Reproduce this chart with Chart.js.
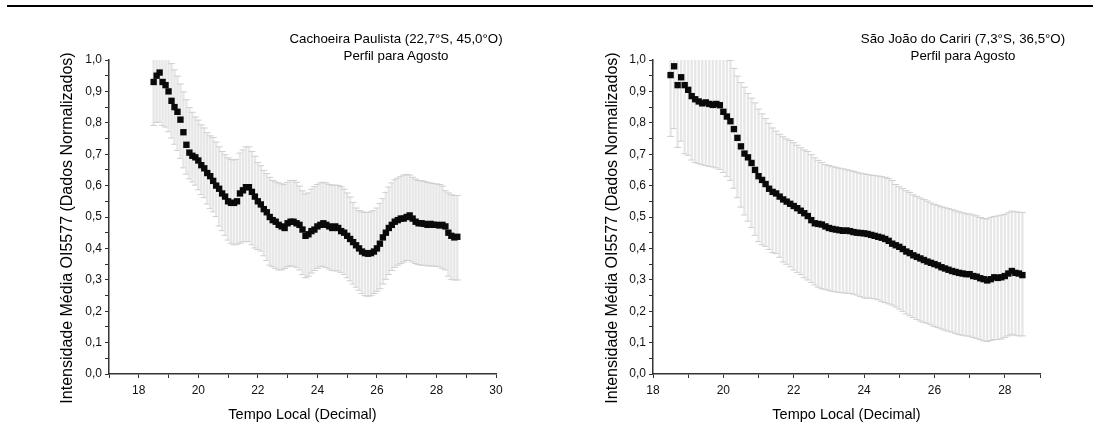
<!DOCTYPE html>
<html>
<head>
<meta charset="utf-8">
<script src="https://cdn.jsdelivr.net/npm/chart.js@4.4.1/dist/chart.umd.min.js"></script>
<style>
  body { margin: 0; background: #fff; font-family: "Liberation Sans", Arial, sans-serif; }
  #page { position: relative; width: 1093px; height: 443px; overflow: hidden; }
  #topRule { position: absolute; left: 7px; top: 5px; width: 1086px; height: 2px; background: #000; }
  .box { position: absolute; top: 0; }
  .title { position: absolute; width: 260px; font-size: 13.3px; line-height: 17px; text-align: center; color: #000; white-space: nowrap; }
  .ytitle { position: absolute; width: 400px; height: 20px; line-height: 20px; font-size: 16px; text-align: center; color: #000;
            white-space: nowrap; transform: translate(-50%, -50%) rotate(-90deg); }
</style>
</head>
<body>
<div id="page">
  <div id="topRule"></div>
  <div class="box" style="left:0"><canvas id="chartCachoeira" width="546" height="443"></canvas></div>
  <div class="box" style="left:546px"><canvas id="chartCariri" width="547" height="443"></canvas></div>
  <div class="title" style="left:266px; top:30px;">Cachoeira Paulista (22,7°S, 45,0°O)<br>Perfil para Agosto</div>
  <div class="title" style="left:833px; top:30px;">São João do Cariri (7,3°S, 36,5°O)<br>Perfil para Agosto</div>
  <div class="ytitle" id="yTitleCP" style="left:67px; top:228px;"></div>
  <div class="ytitle" id="yTitleSJ" style="left:612px; top:228px;"></div>
</div>
<script>
// Cachoeira Paulista - agosto
const hoursCP = [18.5,18.6,18.7,18.8,18.9,19.0,19.1,19.2,19.3,19.4,19.5,19.6,19.7,19.8,19.9,
  20.0,20.1,20.2,20.3,20.4,20.5,20.6,20.7,20.8,20.9,21.0,21.1,21.2,21.3,21.4,21.5,21.6,21.7,21.8,21.9,
  22.0,22.1,22.2,22.3,22.4,22.5,22.6,22.7,22.8,22.9,23.0,23.1,23.2,23.3,23.4,23.5,23.6,23.7,23.8,23.9,
  24.0,24.1,24.2,24.3,24.4,24.5,24.6,24.7,24.8,24.9,25.0,25.1,25.2,25.3,25.4,25.5,25.6,25.7,25.8,25.9,
  26.0,26.1,26.2,26.3,26.4,26.5,26.6,26.7,26.8,26.9,27.0,27.1,27.2,27.3,27.4,27.5,27.6,27.7,27.8,27.9,
  28.0,28.1,28.2,28.3,28.4,28.5,28.6,28.7];
const meanCP = [0.93,0.95,0.96,0.93,0.92,0.90,0.87,0.85,0.835,0.81,0.77,0.73,0.705,0.695,0.69,
  0.68,0.665,0.655,0.64,0.63,0.615,0.60,0.59,0.575,0.565,0.55,0.545,0.545,0.55,0.575,0.585,0.595,0.595,0.58,0.565,
  0.55,0.54,0.525,0.515,0.50,0.49,0.485,0.475,0.47,0.465,0.48,0.485,0.485,0.48,0.475,0.46,0.44,0.445,0.455,0.46,
  0.47,0.475,0.48,0.475,0.47,0.465,0.47,0.465,0.455,0.45,0.44,0.43,0.42,0.41,0.40,0.39,0.385,0.383,0.385,0.39,
  0.40,0.415,0.435,0.45,0.465,0.475,0.485,0.49,0.495,0.495,0.50,0.505,0.495,0.485,0.48,0.48,0.478,0.475,0.478,0.475,
  0.475,0.473,0.475,0.47,0.45,0.44,0.435,0.437];
const upperCP = [1.08,1.09,1.09,1.06,1.05,1.02,0.99,0.97,0.95,0.925,0.90,0.875,0.85,0.835,0.82,
  0.81,0.795,0.785,0.77,0.76,0.755,0.74,0.725,0.71,0.70,0.69,0.685,0.683,0.685,0.705,0.715,0.725,0.725,0.71,0.695,
  0.675,0.665,0.65,0.64,0.628,0.618,0.613,0.61,0.607,0.605,0.612,0.618,0.618,0.612,0.60,0.585,0.575,0.578,0.59,0.598,
  0.605,0.61,0.612,0.61,0.605,0.603,0.603,0.602,0.598,0.59,0.578,0.565,0.548,0.53,0.522,0.518,0.516,0.516,0.518,0.522,
  0.53,0.545,0.56,0.58,0.597,0.61,0.62,0.625,0.63,0.635,0.637,0.635,0.628,0.622,0.618,0.617,0.615,0.612,0.61,0.608,
  0.607,0.605,0.60,0.585,0.578,0.572,0.57,0.57];
const lowerCP = [0.79,0.80,0.80,0.79,0.785,0.77,0.75,0.73,0.71,0.685,0.655,0.635,0.62,0.61,0.60,
  0.585,0.57,0.56,0.54,0.525,0.515,0.50,0.47,0.455,0.44,0.425,0.415,0.41,0.412,0.415,0.42,0.42,0.42,0.41,0.40,
  0.395,0.39,0.375,0.36,0.345,0.34,0.335,0.33,0.33,0.335,0.34,0.343,0.342,0.338,0.33,0.315,0.305,0.31,0.32,0.328,
  0.335,0.34,0.342,0.338,0.333,0.328,0.327,0.327,0.322,0.315,0.305,0.295,0.285,0.275,0.265,0.255,0.248,0.246,0.248,0.255,
  0.262,0.27,0.285,0.30,0.315,0.328,0.338,0.345,0.35,0.355,0.36,0.36,0.355,0.35,0.347,0.345,0.345,0.343,0.343,0.342,
  0.342,0.34,0.335,0.33,0.31,0.30,0.298,0.298];

// Sao Joao do Cariri - agosto
const hoursSJ = [18.5,18.6,18.7,18.8,18.9,19.0,19.1,19.2,19.3,19.4,19.5,19.6,19.7,19.8,19.9,
  20.0,20.1,20.2,20.3,20.4,20.5,20.6,20.7,20.8,20.9,21.0,21.1,21.2,21.3,21.4,21.5,21.6,21.7,21.8,21.9,
  22.0,22.1,22.2,22.3,22.4,22.5,22.6,22.7,22.8,22.9,23.0,23.1,23.2,23.3,23.4,23.5,23.6,23.7,23.8,23.9,
  24.0,24.1,24.2,24.3,24.4,24.5,24.6,24.7,24.8,24.9,25.0,25.1,25.2,25.3,25.4,25.5,25.6,25.7,25.8,25.9,
  26.0,26.1,26.2,26.3,26.4,26.5,26.6,26.7,26.8,26.9,27.0,27.1,27.2,27.3,27.4,27.5,27.6,27.7,27.8,27.9,
  28.0,28.1,28.2,28.3,28.4,28.5];
const meanSJ = [0.952,0.98,0.92,0.945,0.92,0.905,0.885,0.875,0.868,0.862,0.865,0.86,0.857,0.86,0.856,
  0.835,0.82,0.805,0.78,0.752,0.725,0.702,0.69,0.672,0.65,0.63,0.618,0.605,0.59,0.58,0.575,0.565,0.556,0.549,0.542,
  0.535,0.528,0.52,0.512,0.503,0.49,0.48,0.478,0.476,0.47,0.465,0.462,0.46,0.458,0.456,0.457,0.455,0.452,0.45,0.449,
  0.448,0.446,0.443,0.44,0.437,0.434,0.43,0.424,0.415,0.41,0.405,0.398,0.39,0.385,0.378,0.373,0.368,0.363,0.358,0.354,
  0.35,0.346,0.34,0.336,0.332,0.328,0.325,0.322,0.32,0.318,0.318,0.312,0.31,0.305,0.302,0.298,0.302,0.308,0.306,0.308,
  0.312,0.32,0.328,0.322,0.32,0.315];
const upperSJ = [1.15,1.17,1.12,1.13,1.11,1.09,1.075,1.065,1.06,1.055,1.055,1.05,1.05,1.05,1.04,
  1.03,1.015,1.0,0.975,0.95,0.93,0.915,0.895,0.88,0.865,0.845,0.83,0.815,0.80,0.785,0.775,0.765,0.757,0.75,0.745,
  0.738,0.73,0.722,0.715,0.71,0.70,0.69,0.682,0.675,0.668,0.665,0.662,0.66,0.657,0.655,0.652,0.65,0.647,0.644,0.641,
  0.639,0.637,0.635,0.634,0.632,0.63,0.628,0.624,0.618,0.605,0.598,0.592,0.585,0.58,0.572,0.567,0.562,0.557,0.552,0.546,
  0.542,0.538,0.534,0.531,0.528,0.525,0.521,0.518,0.515,0.512,0.511,0.508,0.505,0.50,0.497,0.495,0.50,0.503,0.505,0.507,
  0.51,0.515,0.52,0.518,0.517,0.516];
const lowerSJ = [0.755,0.78,0.72,0.74,0.70,0.695,0.68,0.672,0.668,0.665,0.662,0.66,0.658,0.655,0.65,
  0.64,0.628,0.615,0.59,0.56,0.53,0.505,0.485,0.465,0.44,0.42,0.41,0.405,0.395,0.385,0.382,0.37,0.355,0.348,0.34,
  0.33,0.322,0.315,0.305,0.298,0.29,0.282,0.275,0.27,0.268,0.265,0.262,0.26,0.258,0.257,0.256,0.255,0.253,0.25,0.245,
  0.241,0.24,0.24,0.238,0.235,0.23,0.226,0.222,0.218,0.212,0.205,0.198,0.19,0.184,0.178,0.172,0.167,0.163,0.16,0.155,
  0.15,0.146,0.142,0.138,0.135,0.132,0.128,0.124,0.122,0.12,0.119,0.115,0.112,0.108,0.104,0.102,0.105,0.108,0.108,0.11,
  0.115,0.12,0.125,0.122,0.12,0.12];

const xTicksCP = [17,18,19,20,21,22,23,24,25,26,27,28,29,30];
const xTicksSJ = [18,19,20,21,22,23,24,25,26,27,28,29];
const yTicks = [0,0.05,0.1,0.15,0.2,0.25,0.3,0.35,0.4,0.45,0.5,0.55,0.6,0.65,0.7,0.75,0.8,0.85,0.9,0.95,1.0];

const yTitle = 'Intensidade Média OI5577 (Dados Normalizados)';
const xTitle = 'Tempo Local (Decimal)';

// draws the grey error bars behind the squares
const errorBars = {
  id: 'errorBars',
  beforeDatasetsDraw(chart, args, opts) {
    const { ctx, chartArea, scales } = chart;
    ctx.save();
    ctx.beginPath();
    ctx.rect(chartArea.left, chartArea.top, chartArea.width, chartArea.height);
    ctx.clip();
    for (let i = 0; i < opts.x.length; i++) {
      const x = scales.x.getPixelForValue(opts.x[i]);
      const top = scales.y.getPixelForValue(opts.upper[i]);
      const bot = scales.y.getPixelForValue(opts.lower[i]);
      ctx.strokeStyle = '#e7e7e7';
      ctx.lineWidth = 2.4;
      ctx.beginPath();
      ctx.moveTo(x, top);
      ctx.lineTo(x, bot);
      ctx.stroke();
      ctx.strokeStyle = '#d0d0d0';
      ctx.lineWidth = 1;
      ctx.beginPath();
      ctx.moveTo(x - 3.5, top + 0.5);
      ctx.lineTo(x + 3.5, top + 0.5);
      ctx.moveTo(x - 3.5, bot - 0.5);
      ctx.lineTo(x + 3.5, bot - 0.5);
      ctx.stroke();
    }
    ctx.restore();
  }
};

function fmt(v) {
  return v.toFixed(1).replace('.', ',');
}

function createGraph(canvas, hours, mean, upper, lower, xTicks, xMin, xMax, pad) {
  new Chart(canvas, {
    type: 'scatter',
    data: {
      datasets: [{
        data: hours.map((h, i) => ({ x: h, y: mean[i] })),
        pointStyle: 'rect',
        pointRadius: 4.5,
        backgroundColor: '#0a0a0a',
        borderColor: '#0a0a0a',
        borderWidth: 0,
        showLine: false
      }]
    },
    options: {
      responsive: false,
      animation: false,
      events: [],
      layout: { padding: pad },
      plugins: {
        legend: { display: false },
        tooltip: { enabled: false },
        errorBars: { x: hours, upper: upper, lower: lower }
      },
      scales: {
        x: {
          type: 'linear',
          min: xMin,
          max: xMax,
          afterBuildTicks: s => { s.ticks = xTicks.map(v => ({ value: v })); },
          afterFit: s => { s.height = 69; },
          ticks: {
            autoSkip: false,
            maxRotation: 0,
            padding: 5,
            color: '#111',
            font: { family: 'Liberation Sans', size: 12 },
            callback: v => (v % 2 === 0 ? String(v) : '')
          },
          grid: { drawOnChartArea: false, drawTicks: true, tickLength: 4, color: '#333', lineWidth: 1 },
          border: { display: true, color: '#333', width: 1.5 },
          title: {
            display: true, text: xTitle, color: '#000',
            font: { family: 'Liberation Sans', size: 14.5 },
            padding: { top: 0, bottom: 19 }
          }
        },
        y: {
          type: 'linear',
          min: 0,
          max: 1,
          afterBuildTicks: s => { s.ticks = yTicks.map(v => ({ value: v })); },
          afterFit: s => { s.width = pad.ylabel; },
          ticks: {
            autoSkip: false,
            padding: 3,
            color: '#111',
            font: { family: 'Liberation Sans', size: 12 },
            callback: v => (Math.round(v * 100) % 10 === 0 ? fmt(v) : '')
          },
          grid: { drawOnChartArea: false, drawTicks: true, tickLength: 4, color: '#333', lineWidth: 1 },
          border: { display: true, color: '#333', width: 1.5 }
        }
      }
    },
    plugins: [errorBars]
  });
}

document.addEventListener('DOMContentLoaded', function () {
  document.getElementById('yTitleCP').textContent = yTitle;
  document.getElementById('yTitleSJ').textContent = yTitle;
  createGraph(document.getElementById('chartCachoeira'), hoursCP, meanCP, upperCP, lowerCP,
    xTicksCP, 17, 30, { top: 60, right: 50, left: 0, bottom: 0, ylabel: 109 });
  createGraph(document.getElementById('chartCariri'), hoursSJ, meanSJ, upperSJ, lowerSJ,
    xTicksSJ, 18, 29, { top: 60, right: 53, left: 0, bottom: 0, ylabel: 107 });
});
</script>
</body>
</html>
